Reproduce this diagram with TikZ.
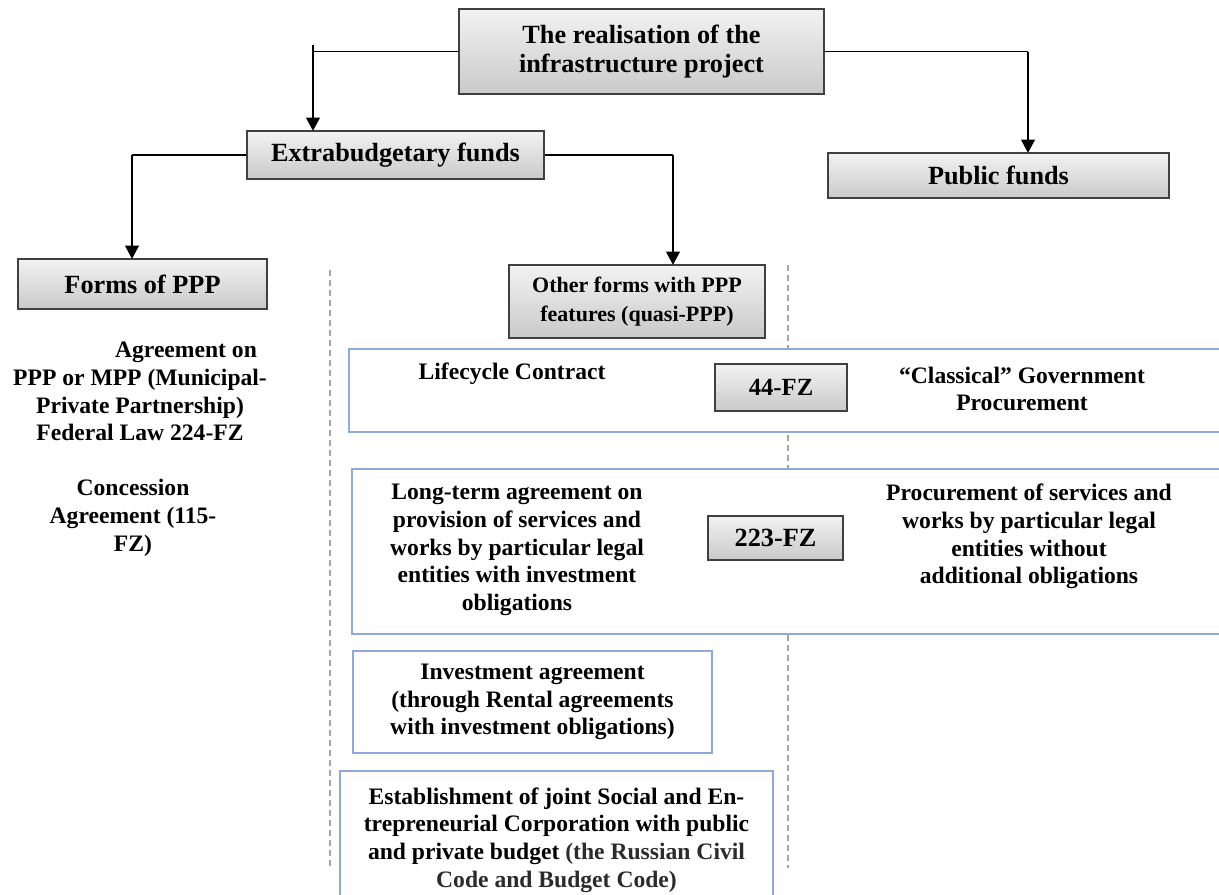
\documentclass[tikz,border=0pt]{standalone}
\usepackage{fontspec}
\setmainfont{Liberation Serif}
\usetikzlibrary{arrows.meta}
\definecolor{frameblue}{HTML}{8EAADB}
\definecolor{edgegray}{HTML}{404040}
\definecolor{guidegray}{HTML}{A6A6A6}
\definecolor{notegray}{HTML}{2B2B2B}

\newcommand{\hfont}{\fontsize{19.7}{21.5}\selectfont\bfseries}
\newcommand{\bfont}{\fontsize{17.7}{20.8}\selectfont\bfseries}
\newcommand{\qfont}{\fontsize{16.5}{21.5}\selectfont\bfseries}
\newcommand{\fzfont}{\fontsize{18.5}{20}\selectfont\bfseries}

\begin{document}
\begin{tikzpicture}[x=0.75pt,y=-0.75pt,
    greybox/.style={draw=edgegray,line width=0.8pt,top color=gray!10,bottom color=gray!42,inner sep=0pt,align=center},
    bluebox/.style={draw=frameblue,line width=0.9pt,fill=white,inner sep=0pt,align=center},
    txt/.style={inner sep=0pt,align=center,font=\bfont},
    link/.style={line width=1.1pt},
    arr/.style={line width=2pt,-{Triangle[width=10pt,length=10pt]}},
    guide/.style={draw=guidegray,line width=1.1pt,dash pattern=on 4.5pt off 3pt}]
  \useasboundingbox (0,0) rectangle (1219,894);
  \clip (0,0) rectangle (1219,894);

  % top levels
  \node[greybox,font=\hfont,minimum width=273.75pt,minimum height=63.75pt] (project) at (641.5,51.5) {The realisation of the\\infrastructure project};
  \node[greybox,font=\hfont,minimum width=222.75pt,minimum height=36pt] (extra) at (395.5,155) {Extrabudgetary funds};
  \node[greybox,font=\hfont,minimum width=255.75pt,minimum height=33.75pt] (public) at (998.5,175.5) {Public funds};
  \node[greybox,font=\hfont,minimum width=186.75pt,minimum height=37.5pt] (ppp) at (142.5,284) {Forms of PPP};
  \node[greybox,font=\qfont,minimum width=192pt,minimum height=54.75pt] (quasi) at (637,301.5) {Other forms with PPP\\features (quasi-PPP)};

  % connectors
  \coordinate (tBend) at (313,45);
  \coordinate (eIn) at (313,131);
  \coordinate (pIn) at (1028,153);
  \coordinate (fIn) at (132,259);
  \coordinate (qIn) at (673,265);
  \draw[link] (project.west) -- (project.west -| tBend);
  \draw[arr] (tBend) -- (eIn);
  \draw[link] (project.east) -- (project.east -| pIn);
  \draw[arr] (project.east -| pIn) -- (pIn);
  \draw[link] (extra.west) -- (extra.west -| fIn);
  \draw[arr] (extra.west -| fIn) -- (fIn);
  \draw[link] (extra.east) -- (extra.east -| qIn);
  \draw[arr] (extra.east -| qIn) -- (qIn);

  % dashed guides
  \coordinate (gA1) at (330,270);
  \coordinate (gA2) at (330,868);
  \coordinate (gB1) at (788,265);
  \coordinate (gB2) at (788,868);
  \draw[guide] (gA1) -- (gA2);
  \draw[guide] (gB1) -- (gB2);

  % PPP column
  \node[txt] (agree) at (140,391.5) {\hspace*{69pt}Agreement on\\PPP or MPP (Municipal-\\Private Partnership)\\Federal Law 224-FZ};
  \node[txt] (concession) at (133,518) {Concession\\Agreement (115-\\FZ)};

  % quasi-PPP rows
  \node[bluebox,minimum width=660.75pt,minimum height=62.25pt] (lifeframe) at (789.5,390.5) {};
  \node[bluebox,minimum width=658.5pt,minimum height=123.75pt] (longframe) at (791,551.5) {};
  \node[greybox,font=\fzfont,minimum width=99pt,minimum height=35.25pt] (fz44) at (781,387.5) {44-FZ};
  \node[greybox,font=\hfont,minimum width=101.25pt,minimum height=33pt] (fz223) at (775.5,538) {223-FZ};
  \node[txt] (lifecycle) at (512,374) {Lifecycle Contract};
  \node[txt] (classical) at (1022,389) {“Classical” Government\\Procurement};
  \node[txt] (longterm) at (517,550) {Long-term agreement on\\provision of services and\\works by particular legal\\entities with investment\\obligations};
  \node[txt] (procure) at (1029,536.5) {Procurement of services and\\works by particular legal\\entities without\\additional obligations};
  \node[bluebox,font=\bfont,minimum width=269.25pt,minimum height=76.5pt] (invest) at (532.5,702) {Investment agreement\\(through Rental agreements\\with investment obligations)};
  \node[bluebox,font=\bfont,minimum width=324.75pt,minimum height=103.5pt] (joint) at (556.5,840) {Establishment of joint Social and En-\\trepreneurial Corporation with public\\and private budget {\color{notegray}(the Russian Civil}\\{\color{notegray}Code and Budget Code)}};
\end{tikzpicture}
\end{document}
